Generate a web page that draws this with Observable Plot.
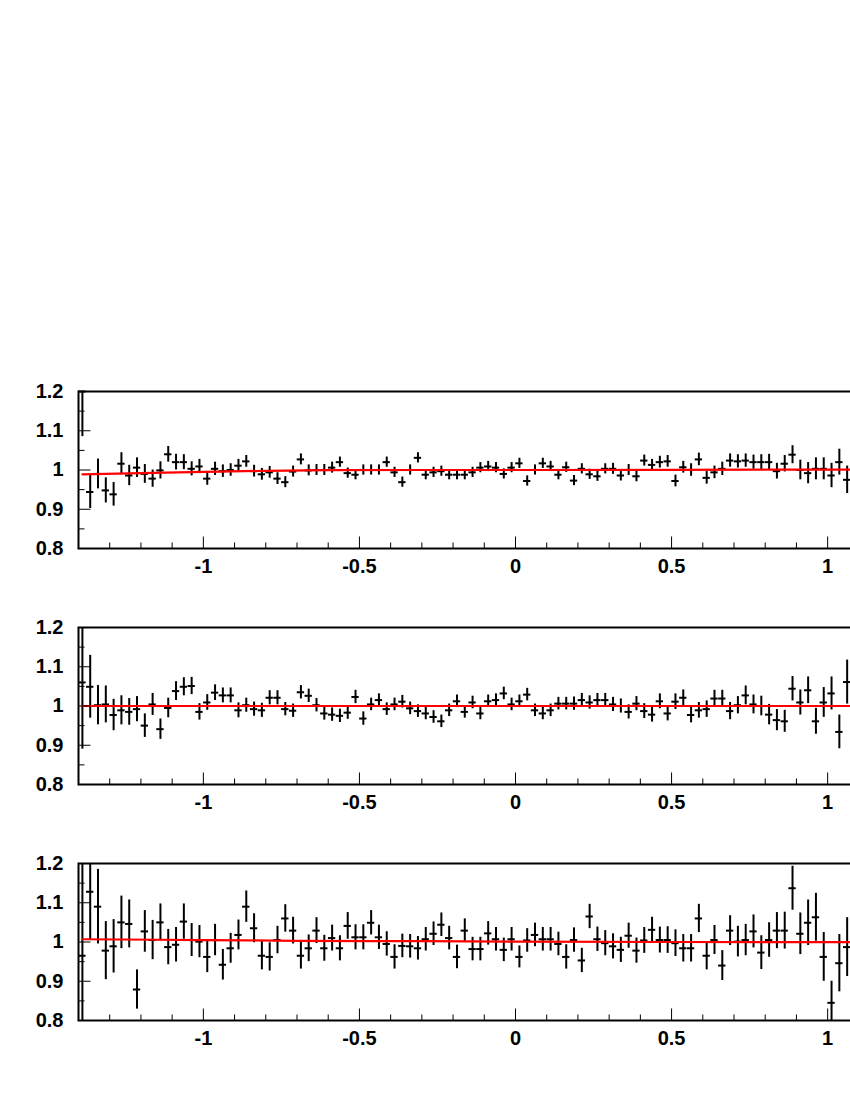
<!DOCTYPE html>
<html><head><meta charset="utf-8">
<script src="https://cdn.jsdelivr.net/npm/d3@7"></script>
<script src="https://cdn.jsdelivr.net/npm/@observablehq/plot@0.6"></script>
<style>
html,body{margin:0;padding:0;background:#fff;overflow:hidden;width:850px;height:1100px;}
#wrap{position:relative;width:850px;height:1100px;overflow:hidden;background:#fff;}
.panel{position:absolute;left:0;width:1000px;}
.panel svg{max-width:none !important;width:1000px !important;height:217px !important;}
</style></head><body><div id="wrap"></div>
<script>
// Bin centres (bin width 0.025, starting at -1.4)
const binCenters = [
-1.3875,-1.3625,-1.3375,-1.3125,-1.2875,-1.2625,-1.2375,-1.2125,-1.1875,-1.1625,
-1.1375,-1.1125,-1.0875,-1.0625,-1.0375,-1.0125,-0.9875,-0.9625,-0.9375,-0.9125,
-0.8875,-0.8625,-0.8375,-0.8125,-0.7875,-0.7625,-0.7375,-0.7125,-0.6875,-0.6625,
-0.6375,-0.6125,-0.5875,-0.5625,-0.5375,-0.5125,-0.4875,-0.4625,-0.4375,-0.4125,
-0.3875,-0.3625,-0.3375,-0.3125,-0.2875,-0.2625,-0.2375,-0.2125,-0.1875,-0.1625,
-0.1375,-0.1125,-0.0875,-0.0625,-0.0375,-0.0125,0.0125,0.0375,0.0625,0.0875,
0.1125,0.1375,0.1625,0.1875,0.2125,0.2375,0.2625,0.2875,0.3125,0.3375,
0.3625,0.3875,0.4125,0.4375,0.4625,0.4875,0.5125,0.5375,0.5625,0.5875,
0.6125,0.6375,0.6625,0.6875,0.7125,0.7375,0.7625,0.7875,0.8125,0.8375,
0.8625,0.8875,0.9125,0.9375,0.9625,0.9875,1.0125,1.0375,1.0625];
const binWidth = 0.025;

// Panel 1
const ratio1 = [
1.23,0.944,0.99,0.948,0.938,1.016,0.986,1.006,0.99,0.978,
0.999,1.04,1.02,1.02,1.003,1.009,0.978,1.003,0.997,1.0,
1.011,1.022,0.997,0.989,0.994,0.978,0.969,0.996,1.027,0.999,
1.0,1.0,1.006,1.02,0.992,0.988,1.0,1.0,1.0,1.02,
0.994,0.969,1.0,1.031,0.988,0.994,0.997,0.988,0.988,0.988,
0.994,1.006,1.009,1.006,0.99,1.006,1.017,0.972,1.0,1.017,
1.009,0.988,1.007,0.973,1.003,0.989,0.984,1.003,1.003,0.986,
1.0,0.984,1.024,1.013,1.02,1.022,0.972,1.007,1.0,1.027,
0.98,0.994,1.003,1.024,1.022,1.024,1.02,1.02,1.02,0.997,
1.016,1.039,1.0,0.992,1.003,1.003,0.986,1.02,0.975];
const err1 = [
0.145,0.042,0.038,0.032,0.030,0.028,0.026,0.025,0.024,0.022,
0.022,0.020,0.020,0.019,0.018,0.018,0.017,0.017,0.016,0.016,
0.016,0.015,0.015,0.015,0.015,0.015,0.014,0.014,0.014,0.014,
0.014,0.014,0.014,0.013,0.013,0.013,0.013,0.013,0.013,0.013,
0.013,0.013,0.013,0.013,0.013,0.013,0.013,0.013,0.013,0.013,
0.013,0.013,0.013,0.013,0.013,0.013,0.013,0.013,0.013,0.013,
0.013,0.013,0.013,0.013,0.013,0.013,0.013,0.013,0.014,0.014,
0.014,0.014,0.014,0.014,0.015,0.015,0.015,0.015,0.016,0.016,
0.016,0.016,0.017,0.017,0.017,0.017,0.018,0.019,0.020,0.020,
0.021,0.023,0.025,0.027,0.028,0.028,0.031,0.033,0.035];
const fit1X = [-1.3875,-1.2,-1.0,-0.8,-0.6,-0.3,0,0.5,1.1];
const fit1Y = [0.989,0.992,0.995,0.998,0.9995,1.0,1.0,1.0005,1.001];

// Panel 2
const ratio2 = [
1.06,1.049,1.002,1.004,0.977,0.989,0.985,0.992,0.95,1.004,
0.941,0.995,1.038,1.049,1.051,0.985,1.009,1.034,1.027,1.027,
0.989,1.002,0.992,0.989,1.021,1.021,0.992,0.988,1.035,1.026,
1.002,0.981,0.978,0.975,0.983,1.023,0.968,1.004,1.015,0.992,
1.004,1.011,0.994,0.987,0.981,0.972,0.961,0.989,1.012,0.985,
1.009,0.981,1.012,1.015,1.032,1.004,1.012,1.029,0.989,0.981,
0.989,1.006,1.006,1.006,1.015,1.009,1.015,1.015,1.004,1.0,
0.985,1.006,0.987,0.978,1.012,0.981,1.011,1.021,0.977,0.989,
0.992,1.019,1.019,0.987,1.002,1.027,1.004,1.0,0.978,0.964,
0.961,1.044,1.009,1.04,0.961,1.009,1.032,0.934,1.061];
const err2 = [
0.17,0.08,0.05,0.047,0.04,0.037,0.034,0.032,0.03,0.028,
0.026,0.025,0.024,0.023,0.022,0.021,0.02,0.02,0.019,0.019,
0.019,0.018,0.018,0.018,0.018,0.018,0.017,0.017,0.017,0.017,
0.017,0.017,0.017,0.017,0.017,0.017,0.017,0.016,0.016,0.016,
0.016,0.016,0.016,0.016,0.016,0.016,0.016,0.016,0.016,0.016,
0.016,0.016,0.016,0.016,0.016,0.016,0.016,0.016,0.016,0.016,
0.016,0.016,0.016,0.017,0.017,0.017,0.017,0.017,0.018,0.018,
0.018,0.018,0.019,0.019,0.019,0.019,0.02,0.02,0.02,0.02,
0.021,0.021,0.021,0.022,0.022,0.024,0.024,0.025,0.026,0.027,
0.028,0.031,0.032,0.034,0.033,0.038,0.042,0.043,0.056];
const fit2X = [-1.3875,1.1];
const fit2Y = [1.0,1.0];

// Panel 3
const ratio3 = [
0.965,1.128,1.09,0.978,0.989,1.05,1.046,0.879,1.027,1.005,
1.05,0.987,0.993,1.052,1.005,1.001,0.962,1.005,0.942,0.984,
1.018,1.09,1.035,0.965,0.962,1.005,1.06,1.029,0.965,0.984,
1.029,0.984,1.01,0.984,1.041,1.012,1.012,1.049,1.012,0.995,
0.962,0.99,0.989,0.984,1.007,1.021,1.044,1.01,0.962,1.029,
0.982,0.982,1.022,1.007,0.98,1.007,0.962,1.004,1.018,1.007,
1.007,0.995,0.962,1.005,0.953,1.065,1.007,0.997,0.989,0.98,
1.016,0.978,1.004,1.031,1.005,1.005,0.997,0.984,0.984,1.06,
0.965,1.005,0.94,1.029,1.001,1.005,1.027,0.973,1.005,1.029,
1.029,1.137,1.021,1.049,1.063,0.962,0.845,0.946,0.987];
const err3 = [
0.30,0.123,0.095,0.074,0.068,0.067,0.061,0.05,0.053,0.05,
0.047,0.045,0.044,0.045,0.042,0.041,0.04,0.04,0.039,0.038,
0.038,0.04,0.037,0.036,0.036,0.035,0.035,0.034,0.034,0.034,
0.033,0.033,0.033,0.032,0.034,0.032,0.032,0.031,0.031,0.031,
0.031,0.030,0.030,0.030,0.030,0.030,0.030,0.030,0.030,0.030,
0.030,0.030,0.030,0.030,0.030,0.030,0.028,0.030,0.030,0.030,
0.030,0.030,0.031,0.031,0.031,0.031,0.031,0.032,0.032,0.032,
0.032,0.032,0.033,0.032,0.033,0.034,0.034,0.035,0.035,0.036,
0.036,0.037,0.038,0.038,0.039,0.040,0.042,0.043,0.044,0.046,
0.047,0.056,0.053,0.058,0.061,0.062,0.055,0.073,0.075];
const fit3X = [-1.3875,-1.0,-0.7,-0.3,0,0.5,1.1];
const fit3Y = [1.007,1.005,1.003,1.002,1.001,1.0,0.9995];

// Axes
const xDomain = [-1.4, 1.4];
const yDomain = [0.8, 1.2];
const xMajorTicks = [-1, -0.5, 0, 0.5, 1];
const xMinorTicks = [-1.3,-1.2,-1.1,-0.9,-0.8,-0.7,-0.6,-0.4,-0.3,-0.2,-0.1,0.1,0.2,0.3,0.4,0.6,0.7,0.8,0.9,1.1,1.2,1.3];
const yMajorTicks = [0.8, 0.9, 1, 1.1, 1.2];
const yMinorTicks = [0.85, 0.95, 1.05, 1.15];

const panels = [
  {vals: ratio1, errs: err1, fx: fit1X, fy: fit1Y, top: 381},
  {vals: ratio2, errs: err2, fx: fit2X, fy: fit2Y, top: 617},
  {vals: ratio3, errs: err3, fx: fit3X, fy: fit3Y, top: 853}
];

const tickUp = len => ({draw(c){ c.moveTo(0,0); c.lineTo(0,-len); }});
const tickRight = len => ({draw(c){ c.moveTo(0,0); c.lineTo(len,0); }});
const FONT = "'Liberation Sans', Arial, Helvetica, sans-serif";
const half = binWidth / 2 * 0.94;

const wrap = document.getElementById("wrap");
for (const p of panels) {
  const rows = binCenters.map((x, i) => ({x, y: p.vals[i], e: p.errs[i]}));
  const fit = p.fx.map((x, i) => ({x, y: p.fy[i]}));
  const chart = Plot.plot({
    width: 1000,
    height: 217,
    marginLeft: 78,
    marginRight: 48,
    marginTop: 10,
    marginBottom: 50,
    style: {fontFamily: FONT, fontSize: "20px", fontWeight: "bold", background: "#fff", color: "#000", maxWidth: "none"},
    x: {domain: xDomain, label: null},
    y: {domain: yDomain, label: null, clamp: true},
    marks: [
      Plot.ruleX(rows, {x: "x", y1: d => d.y - d.e, y2: d => d.y + d.e, stroke: "#000", strokeWidth: 2}),
      Plot.ruleY(rows, {y: "y", x1: d => d.x - half, x2: d => d.x + half, stroke: "#000", strokeWidth: 2}),
      Plot.line(fit, {x: "x", y: "y", stroke: "#ff0000", strokeWidth: 2.2, curve: "monotone-x"}),
      Plot.dot(xMajorTicks, {x: d => d, y: () => yDomain[0], symbol: tickUp(12), stroke: "#000", fill: "none", strokeWidth: 1}),
      Plot.dot(xMinorTicks, {x: d => d, y: () => yDomain[0], symbol: tickUp(6), stroke: "#000", fill: "none", strokeWidth: 1}),
      Plot.dot(yMajorTicks, {y: d => d, x: () => xDomain[0], symbol: tickRight(12), stroke: "#000", fill: "none", strokeWidth: 1}),
      Plot.dot(yMinorTicks, {y: d => d, x: () => xDomain[0], symbol: tickRight(6), stroke: "#000", fill: "none", strokeWidth: 1}),
      Plot.frame({stroke: "#000", strokeWidth: 2}),
      Plot.axisX({ticks: xMajorTicks, tickSize: 0, tickPadding: 10, tickFormat: d => String(d), label: null, fontSize: 20, fontWeight: "bold", fill: "#000"}),
      Plot.axisY({ticks: yMajorTicks, tickSize: 0, tickPadding: 15, tickFormat: d => String(d), label: null, fontSize: 20, fontWeight: "bold", fill: "#000"})
    ]
  });
  const div = document.createElement("div");
  div.className = "panel";
  div.style.top = p.top + "px";
  div.appendChild(chart);
  wrap.appendChild(div);
}
</script>
</body></html>
